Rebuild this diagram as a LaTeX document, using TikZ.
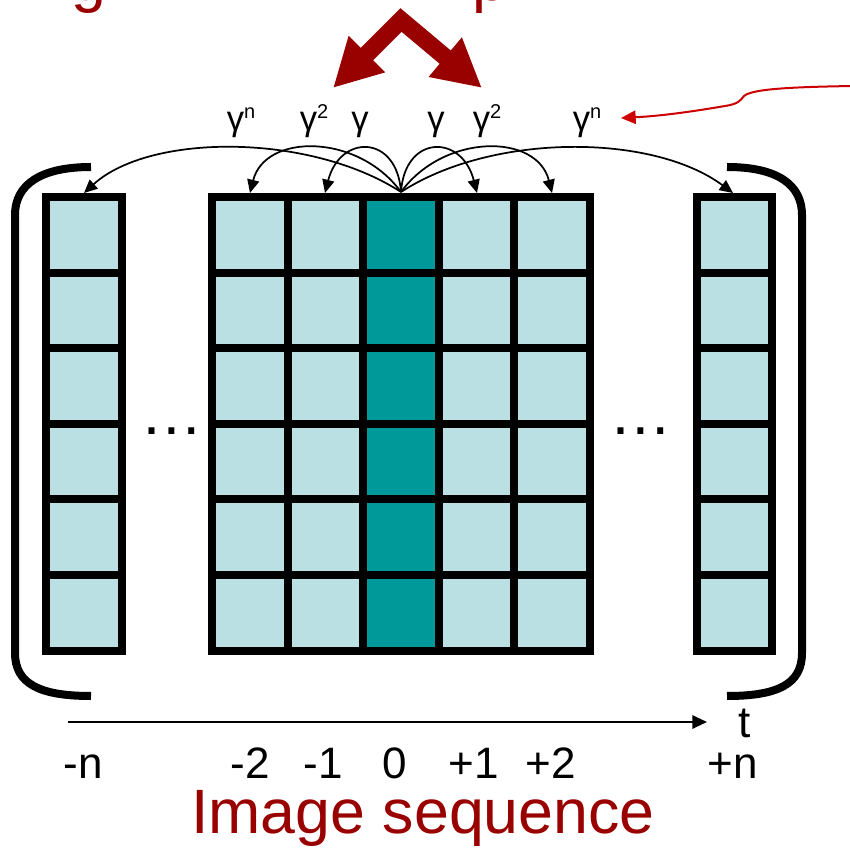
\documentclass[tikz,border=0pt]{standalone}
\usepackage{fontspec}
\setmainfont{Liberation Sans}
\usetikzlibrary{arrows.meta}
\definecolor{cellc}{RGB}{187,224,227}
\definecolor{tealc}{RGB}{0,153,153}
\definecolor{dred}{RGB}{153,0,0}
\definecolor{bred}{RGB}{204,0,0}
\newcommand{\gsup}[1]{γ\raisebox{9pt}{\fontsize{15}{15}\selectfont #1}}
\begin{document}
\begin{tikzpicture}[x=0.75pt,y=-0.75pt,
  gridline/.style={line width=6pt,black},
  bracketline/.style={line width=6pt,black,line cap=butt},
  arcarrow/.style={line width=1.3pt,-{Triangle[length=10pt,width=9pt]}},
  lbl/.style={inner sep=0pt,anchor=base,font=\fontsize{33}{33}\selectfont},
  glbl/.style={inner sep=0pt,anchor=base,font=\fontsize{26}{26}\selectfont},
  dotlbl/.style={inner sep=0pt,anchor=base,font=\fontsize{47}{47}\selectfont},
  titlelbl/.style={inner sep=0pt,anchor=base,text=dred,font=\fontsize{47}{47}\selectfont}
]
\useasboundingbox (0,0) rectangle (850,848);

% cut-off title descenders
\node[titlelbl] (tg) at (89,1) {g};
\node[titlelbl] (tp) at (490,1) {p};

% big red double arrow
\draw[dred,line width=13pt,line join=miter,
  {Triangle[length=36pt,width=36pt]}-{Triangle[length=36pt,width=36pt]}]
  (333,88) -- (401,20) -- (482,88);

% cells
\fill[cellc] (46,197) rectangle (121.6,650.6);
\fill[cellc] (212,197) rectangle (590,650.6);
\fill[tealc] (363.2,197) rectangle (438.8,650.6);
\fill[cellc] (696.5,197) rectangle (772,650.6);

% grid lines
\draw[gridline] (46,197) rectangle (121.6,650.6);
\draw[gridline] (212,197) rectangle (590,650.6);
\draw[gridline] (696.5,197) rectangle (772,650.6);
\foreach \k in {1,...,5}{
  \draw[gridline] (46,197+\k*75.6) -- (121.6,197+\k*75.6);
  \draw[gridline] (212,197+\k*75.6) -- (590,197+\k*75.6);
  \draw[gridline] (696.5,197+\k*75.6) -- (772,197+\k*75.6);
}
\foreach \k in {1,...,4}{
  \draw[gridline] (212+\k*75.6,197) -- (212+\k*75.6,650.6);
}

% brackets
\draw[bracketline] (91,167) .. controls (40,167) and (15,185) .. (15,215)
  -- (15,653) .. controls (15,684) and (40,696) .. (91,696);
\draw[bracketline] (727,167) .. controls (778,167) and (802,185) .. (802,215)
  -- (802,653) .. controls (802,684) and (778,696) .. (727,696);

% ellipses
\node[dotlbl] (dl) at (172,435) {…};
\node[dotlbl] (dr) at (641,435) {…};

% arc endpoints
\coordinate (src) at (401,192);
\coordinate (cmn) at (84,193);
\coordinate (cm2) at (250,193);
\coordinate (cm1) at (325,193);
\coordinate (cp1) at (477,193);
\coordinate (cp2) at (552,193);
\coordinate (cpn) at (733,193);

\draw[arcarrow] (src) .. controls (310,133) and (150,133) .. (cmn);
\draw[arcarrow] (src) .. controls (358,133) and (265,133) .. (cm2);
\draw[arcarrow] (src) .. controls (397,134) and (340,134) .. (cm1);
\draw[arcarrow] (src) .. controls (405,134) and (462,134) .. (cp1);
\draw[arcarrow] (src) .. controls (444,133) and (537,133) .. (cp2);
\draw[arcarrow] (src) .. controls (492,133) and (652,133) .. (cpn);

% gamma labels
\node[glbl] (g1) at (241,131) {\gsup{n}};
\node[glbl] (g2) at (314,131) {\gsup{2}};
\node[glbl] (g3) at (360,131) {γ};
\node[glbl] (g4) at (436,131) {γ};
\node[glbl] (g5) at (487,131) {\gsup{2}};
\node[glbl] (g6) at (587,131) {\gsup{n}};

% red pointer arrow
\coordinate (rs) at (853,86);
\coordinate (rt) at (621,118);
\draw[bred,line width=1.5pt,-{Triangle[length=11pt,width=10pt]}]
  (rs) .. controls (790,87) and (752,89) .. (744,96)
  .. controls (740,101) and (738,104) .. (725,106)
  .. controls (690,112) and (660,116) .. (rt);

% time axis
\coordinate (ax0) at (68,722);
\coordinate (ax1) at (707,722);
\draw[line width=1.5pt,-{Triangle[length=11pt,width=10pt]}] (ax0) -- (ax1);
\node[lbl] (t) at (745,737) {t};

% bottom labels
\node[lbl] (ln) at (83,778) {-n};
\node[lbl] (l2) at (250,778) {-2};
\node[lbl] (l1) at (323,778) {-1};
\node[lbl] (l0) at (395,778) {0};
\node[lbl] (r1) at (474,778) {+1};
\node[lbl] (r2) at (551,778) {+2};
\node[lbl] (rn) at (733,778) {+n};

\node[titlelbl] (title) at (423,833) {Image sequence};
\end{tikzpicture}
\end{document}
